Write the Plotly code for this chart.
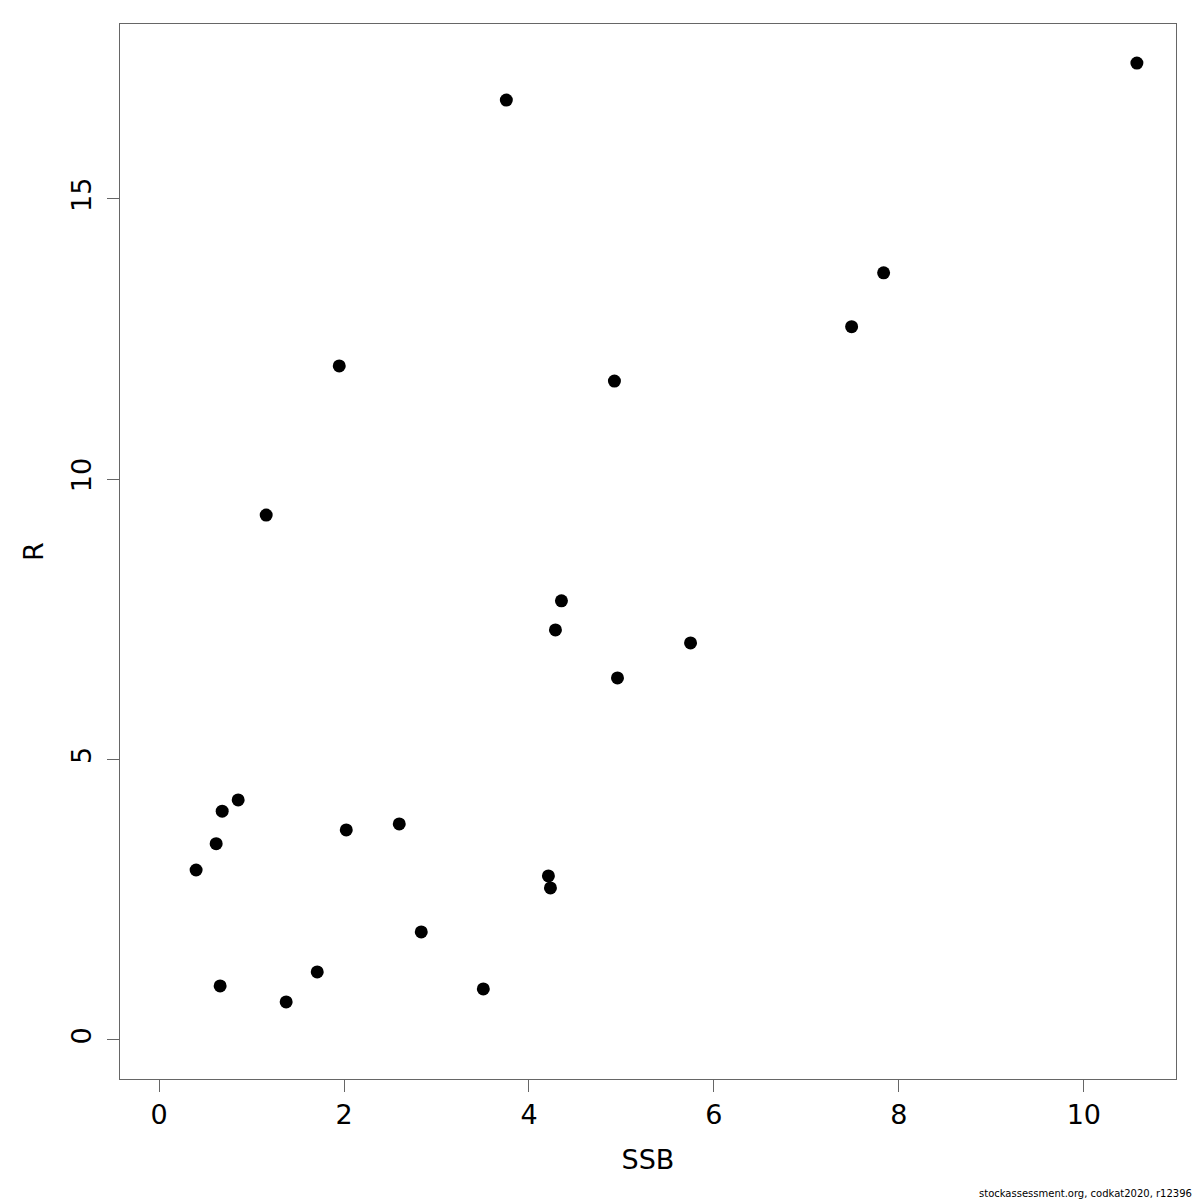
import plotly.graph_objects as go

ssb = [0.40, 0.617, 0.682, 0.855, 0.660, 1.158, 1.374, 1.710, 1.948, 2.024,
       2.597, 2.835, 3.506, 3.755, 4.210, 4.232, 4.286, 4.351, 4.924, 4.957,
       5.747, 7.489, 7.835, 10.574]
rec = [3.03, 3.50, 4.08, 4.28, 0.963, 9.36, 0.678, 1.213, 12.02, 3.745,
       3.852, 1.926, 0.910, 16.76, 2.925, 2.711, 7.312, 7.830, 11.75, 6.456,
       7.080, 12.72, 13.68, 17.42]

x_ticks = [0, 2, 4, 6, 8, 10]
y_ticks = [0, 5, 10, 15]

xmax = max(ssb)
ymax = max(rec)
xr = [0 - 0.04 * xmax, xmax * 1.04]
yr = [0 - 0.04 * ymax, ymax * 1.04]

font = "DejaVu Sans"

fig = go.Figure()
fig.add_trace(go.Scatter(x=ssb, y=rec, mode="markers",
                         marker=dict(color="black", size=13, line=dict(width=0)),
                         showlegend=False, hoverinfo="x+y"))

axis_common = dict(showline=True, mirror=True, linecolor="#666666", linewidth=1,
                   ticks="outside", ticklen=12, tickwidth=1, tickcolor="#666666",
                   showgrid=False, zeroline=False,
                   tickfont=dict(family=font, size=27, color="black"))

fig.update_xaxes(range=xr, tickvals=x_ticks, ticktext=[str(v) for v in x_ticks],
                 title=dict(text="SSB", font=dict(family=font, size=27, color="black"), standoff=20),
                 **axis_common)
fig.update_yaxes(range=yr, tickvals=y_ticks, ticktext=[str(v) for v in y_ticks],
                 tickangle=-90, ticklabelstandoff=5,
                 title=dict(text="R", font=dict(family=font, size=27, color="black"), standoff=14),
                 **axis_common)

fig.add_annotation(text="stockassessment.org, codkat2020, r12396", xref="paper", yref="paper",
                   x=1.0, y=0, xanchor="right", yanchor="bottom", yshift=-122, xshift=18,
                   showarrow=False, font=dict(family=font, size=10, color="black"))

fig.update_layout(width=1200, height=1200, plot_bgcolor="white", paper_bgcolor="white",
                  margin=dict(l=112, r=32, t=16, b=129, autoexpand=False),
                  font=dict(family=font))

fig.write_html("out.html")
